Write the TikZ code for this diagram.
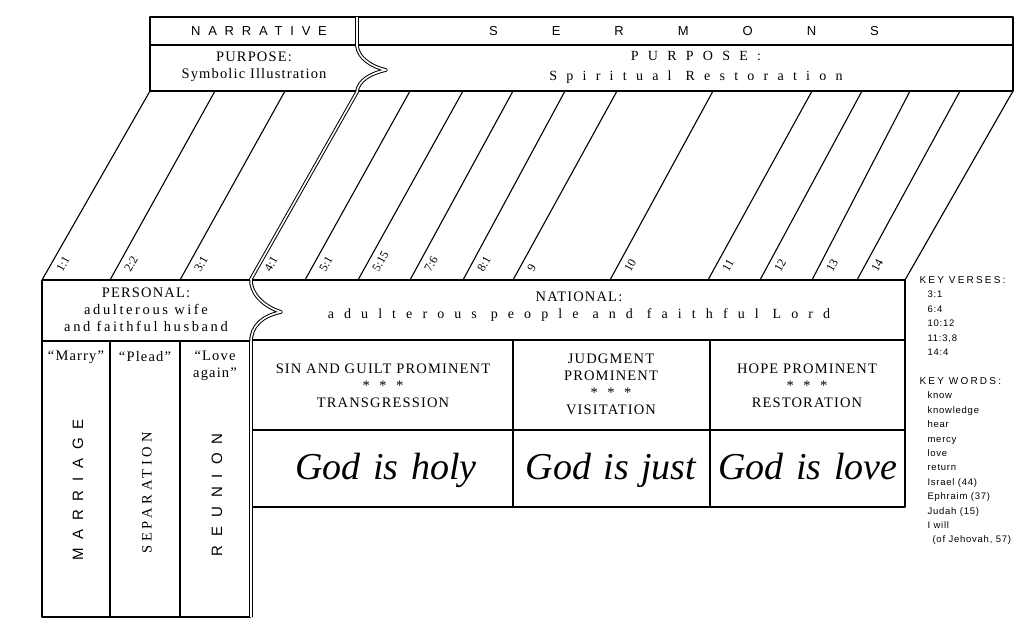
\documentclass[tikz,border=0pt]{standalone}
\usepackage{fontspec}
\setmainfont{Liberation Serif}
\setsansfont{Liberation Sans}
\newfontfamily\sperrsans[LetterSpace=60]{Liberation Sans}
\newfontfamily\weitsans[LetterSpace=58]{Liberation Sans}
\newfontfamily\sperrserif[LetterSpace=66]{Liberation Serif}
\newfontfamily\natfont[LetterSpace=72]{Liberation Serif}
\newfontfamily\leichtserif[LetterSpace=8]{Liberation Serif}
\newfontfamily\persfont[LetterSpace=18]{Liberation Serif}
\newfontfamily\trennfont[LetterSpace=26]{Liberation Serif}
\newfontfamily\keyfont[LetterSpace=8]{Liberation Sans}
\newfontfamily\keykopf[LetterSpace=22]{Liberation Sans}
\newcommand{\lgap}{\hspace{54pt}}
\newcommand{\wgap}{\hspace{14pt}}
\newcommand{\ggap}{\hspace{3pt}}
\usetikzlibrary{arrows}

\begin{document}
\begin{tikzpicture}[x=1pt,y=-1pt,line width=1.1pt,line join=round]
  \tikzset{
    tx/.style={inner sep=0pt,align=center,font=\leichtserif\fontsize{14.5}{17}\selectfont},
    vers/.style={inner sep=0pt,anchor=west,rotate=60.5,font=\fontsize{12}{12}\selectfont},
    gott/.style={inner sep=0pt,anchor=base,font=\itshape\fontsize{38}{42}\selectfont},
    hoch/.style={inner sep=0pt,rotate=90,font=\weitsans\fontsize{15}{16}\selectfont},
    liste/.style={inner sep=0pt,anchor=north west,align=left,font=\keyfont\fontsize{9.5}{14.4}\selectfont}
  }
  \useasboundingbox (0,0) rectangle (1028,638);

  % Kopfzeile
  \draw (150,17) rectangle (1013,91);
  \draw (150,45) -- (1013,45);
  \node (narr) at (259,31) {\sperrsans\fontsize{13}{15}\selectfont NARRATIVE};
  \node (serm) at (684,31) {\sffamily\fontsize{13}{15}\selectfont S\lgap E\lgap R\lgap M\lgap O\lgap N\lgap S};
  \node[tx] (zweckA) at (254,67) {PURPOSE:\\Symbolic Illustration};
  \node[tx,font=\sperrserif\fontsize{14}{20}\selectfont] (zweckB) at (696,67) {PURPOSE:\\Spiritual\wgap Restoration};

  % Schraege Spalten
  \draw (150,91) -- (42,280);
  \draw (1013,91) -- (905,280);
  \draw (42,280) -- (905,280);
  \foreach \t/\b in {215/110,285/180,410/305,463/358,513/410,565/463,617/513,713/610,812/708,862/760,910/812,960/857}
    \draw (\t,91) -- (\b,280);
  \foreach \b/\v [count=\i] in {42/1:1,110/2:2,180/3:1,250/4:1,305/5:1,358/5:15,410/7:6,463/8:1,513/9,610/10,708/11,760/12,812/13,857/14}
    \node[vers] (v\i) at (\b+17,271) {\v};

  % Linke Kaesten
  \draw (42,280) -- (42,617) -- (251,617);
  \draw (42,341) -- (251,341);
  \draw (110,341) -- (110,617);
  \draw (180,341) -- (180,617);
  \node[tx] (pers) at (146,310) {PERSONAL:\\{\persfont adulterous wife}\\{\persfont and faithful husband}};
  \node[tx] (marry) at (76,357) {“Marry”};
  \node[tx] (plead) at (145,357) {“Plead”};
  \node[tx,anchor=north] (love) at (215,350) {“Love\\again”};
  \node[hoch] (ehe) at (78,490) {MARRIAGE};
  \node[hoch,font=\trennfont\fontsize{14.5}{16}\selectfont] (trenn) at (147,493) {SEPARATION};
  \node[hoch,font=\sperrsans\fontsize{15}{16}\selectfont] (wieder) at (217,495) {REUNION};

  % Rechte Kaesten
  \draw (905,280) -- (905,507) -- (251,507);
  \draw (251,340) -- (905,340);
  \draw (251,430) -- (905,430);
  \draw (513,340) -- (513,507);
  \draw (710,340) -- (710,507);
  \node[tx] (nat) at (579,307) {NATIONAL:\\{\natfont\fontsize{14}{17}\selectfont adulterous\wgap people\wgap and\wgap faithful\wgap Lord}};
  \node[tx] (sin) at (383,386) {SIN AND GUILT PROMINENT\\* \ * \ *\\TRANSGRESSION};
  \node[tx] (gericht) at (611,384) {JUDGMENT\\PROMINENT\\* \ * \ *\\VISITATION};
  \node[tx] (hoff) at (807,386) {HOPE PROMINENT\\* \ * \ *\\RESTORATION};
  \node[gott] (heilig) at (386,479) {God\ggap\ is\ggap\ holy};
  \node[gott] (gerecht) at (611,479) {God\ggap\ is\ggap\ just};
  \node[gott] (liebe) at (808,479) {God\ggap\ is\ggap\ love};

  % Doppellinie
  \draw[double,double distance=1.6pt,line width=1pt]
    (357,17) -- (357,46) .. controls (358,58) and (372,67) .. (386,70)
    .. controls (372,73) and (358,80) .. (357,92) -- (251,279)
    .. controls (250,292) and (262,306) .. (281,312)
    .. controls (262,316) and (251,326) .. (251,342) -- (251,617);

  % Schluesselverse
  \node[liste] (verse) at (919,276)
    {{\keykopf\fontsize{10}{14.5}\selectfont KEY VERSES:}\\\hspace*{8pt}3:1\\\hspace*{8pt}6:4\\\hspace*{8pt}10:12\\\hspace*{8pt}11:3,8\\\hspace*{8pt}14:4};
  \node[liste] (worte) at (919,377)
    {{\keykopf\fontsize{10}{14.4}\selectfont KEY WORDS:}\\\hspace*{8pt}know\\\hspace*{8pt}knowledge\\\hspace*{8pt}hear\\\hspace*{8pt}mercy\\\hspace*{8pt}love\\\hspace*{8pt}return\\\hspace*{8pt}Israel (44)\\\hspace*{8pt}Ephraim (37)\\\hspace*{8pt}Judah (15)\\\hspace*{8pt}I will\\\hspace*{13pt}(of Jehovah, 57)};
\end{tikzpicture}
\end{document}
